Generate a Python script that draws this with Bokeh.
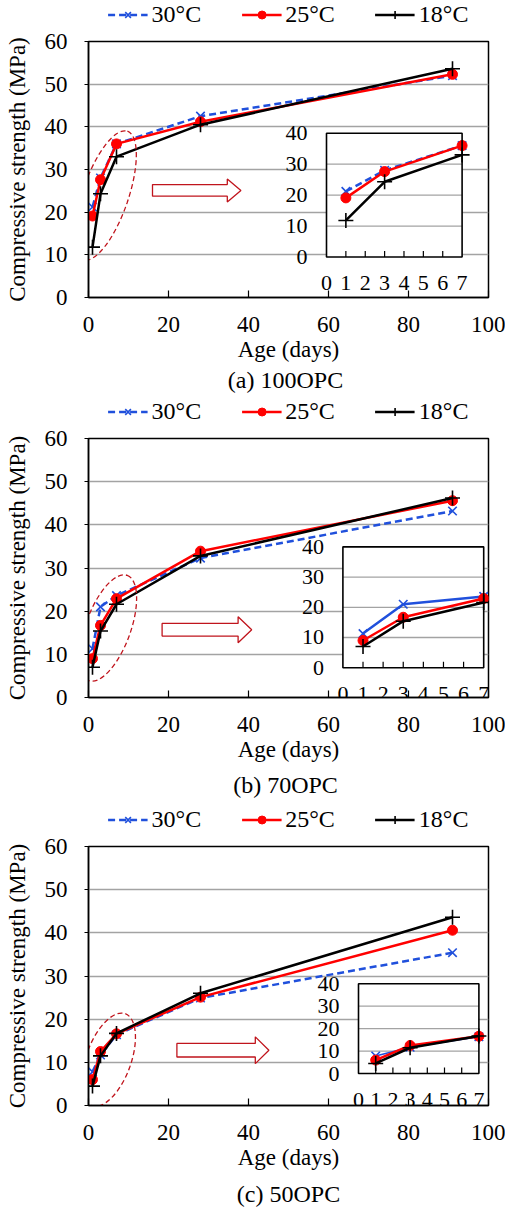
import math
from bokeh.plotting import figure
from bokeh.layouts import column
from bokeh.models import Range1d, Legend, LegendItem, Title, FixedTicker
from bokeh.core.properties import value
from bokeh.embed import file_html
from bokeh.resources import INLINE

# ---------------- data ----------------
ages = [1, 3, 7, 28, 91]
series_labels = ["30°C", "25°C", "18°C"]

opc100_30 = [21.2, 28.0, 36.0, 42.5, 52.0]
opc100_25 = [19.1, 27.6, 36.0, 41.2, 52.3]
opc100_18 = [11.8, 24.3, 33.0, 40.5, 53.6]

opc70_30 = [11.3, 21.0, 23.6, 32.3, 43.2]
opc70_25 = [9.0, 16.7, 22.9, 33.9, 45.6]
opc70_18 = [7.0, 15.4, 21.6, 32.8, 46.2]

opc50_30 = [7.8, 11.7, 16.4, 24.9, 35.4]
opc50_25 = [6.0, 12.5, 16.6, 25.1, 40.6]
opc50_18 = [4.5, 11.5, 16.7, 26.0, 43.6]

x_ticks = [0, 20, 40, 60, 80, 100]
y_ticks = [0, 10, 20, 30, 40, 50, 60]
inset_x_ticks = [0, 1, 2, 3, 4, 5, 6, 7]
inset_y_ticks = [0, 10, 20, 30, 40]
captions = ["(a)  100OPC", "(b)  70OPC", "(c) 50OPC"]
x_title = "Age (days)"
y_title = "Compressive strength (MPa)"

# ---------------- style ----------------
FONT = "Liberation Serif"
BLUE = "#2050dc"
RED = "#ff0000"
BLACK = "#000000"
DARKRED = "#c0141c"
GRID = "#a3a3a3"
W = 505
LEFT = 80
RIGHT = 17
STYLE30 = dict(line_color=BLUE, line_width=2.5, line_dash="7 4")
STYLE25 = dict(line_color=RED, line_width=2.5)
STYLE18 = dict(line_color=BLACK, line_width=2.5)
MK30 = dict(marker="x", size=12, line_color=BLUE, line_width=1.6)
MK25 = dict(marker="circle", size=10, fill_color=RED, line_color=RED)
MK18 = dict(marker="cross", size=15, line_color=BLACK, line_width=1.6)


def make_legend(h, s30, s25, s18):
    # legend strip: series renderers sit outside the visible range, only the legend shows
    q = figure(width=W, height=h, x_range=Range1d(-2, -1), y_range=Range1d(-2, -1),
               output_backend="svg", toolbar_location=None, title=None,
               x_axis_location=None, y_axis_location=None,
               min_border_left=88, min_border_right=9, min_border_top=0, min_border_bottom=0)
    q.grid.visible = False
    q.outline_line_color = None
    q.background_fill_color = "white"
    q.border_fill_color = "white"
    r = []
    for s, ls, ms in ((s30, STYLE30, MK30), (s25, STYLE25, MK25), (s18, STYLE18, MK18)):
        r.append((q.line(ages, s, **ls), q.scatter(ages, s, **ms)))
    legend = Legend(items=[LegendItem(label=series_labels[i], renderers=list(r[i])) for i in range(3)],
                    orientation="horizontal", location="center",
                    glyph_width=40, glyph_height=20, label_height=20, label_standoff=4,
                    spacing=40, padding=0, margin=0,
                    border_line_alpha=0, background_fill_alpha=0,
                    label_text_font=FONT, label_text_font_size="24px", label_text_color="black")
    q.add_layout(legend, "center")
    return q


def make_panel(s30, s25, s18, caption, top, frame_h, bottom, inset_box, blue_dash_inset,
               blue_w_inset, ell, arrow, cap_offset, cap_standoff):
    p = figure(width=W, height=top + frame_h + bottom, x_range=Range1d(0, 100), y_range=Range1d(0, 60),
               output_backend="svg", toolbar_location=None, title=None,
               min_border_left=LEFT, min_border_right=RIGHT, min_border_top=top, min_border_bottom=bottom)
    p.background_fill_color = "white"
    p.border_fill_color = "white"
    p.outline_line_color = "black"
    p.outline_line_width = 1.5

    # axes
    p.xaxis.ticker = FixedTicker(ticks=x_ticks)
    p.yaxis.ticker = FixedTicker(ticks=y_ticks)
    for ax in (p.xaxis[0], p.yaxis[0]):
        ax.axis_line_color = "black"
        ax.axis_line_width = 1.5
        ax.major_tick_line_color = "black"
        ax.major_tick_line_width = 1.2
        ax.minor_tick_line_color = None
        ax.major_label_text_font = FONT
        ax.major_label_text_font_size = "23px"
        ax.major_label_text_color = "black"
        ax.axis_label_text_font = FONT
        ax.axis_label_text_font_size = "23px"
        ax.axis_label_text_font_style = "normal"
        ax.axis_label_text_color = "black"
    p.xaxis.major_tick_in = 7
    p.xaxis.major_tick_out = 0
    p.xaxis.major_label_standoff = 19
    p.xaxis.axis_label = x_title
    p.xaxis.axis_label_standoff = 2
    p.yaxis.major_tick_in = 0
    p.yaxis.major_tick_out = 4
    p.yaxis.major_label_standoff = 17
    p.yaxis.axis_label = y_title
    p.yaxis.axis_label_standoff = 12
    p.xgrid.visible = False
    p.ygrid.ticker = FixedTicker(ticks=y_ticks)
    p.ygrid.grid_line_color = GRID
    p.ygrid.grid_line_width = 1.3

    # main series
    p.line(ages, s30, **STYLE30)
    p.scatter(ages, s30, **MK30)
    p.line(ages, s25, **STYLE25)
    p.scatter(ages, s25, **MK25)
    p.line(ages, s18, **STYLE18)
    p.scatter(ages, s18, **MK18)

    # highlight ellipse around early ages
    cx, cy, ew, eh, ea = ell
    p.ellipse(x=[cx], y=[cy], width=[ew], height=[eh], angle=[math.radians(ea)],
              width_units="screen", height_units="screen", fill_color=None,
              line_color=DARKRED, line_width=1.3, line_dash="5 3")

    # hollow arrow pointing to the inset
    ax0, axh, axt, ay, sh, hh = arrow
    p.patch([ax0, axh, axh, axt, axh, axh, ax0],
            [ay - sh, ay - sh, ay - hh, ay, ay + hh, ay + sh, ay + sh],
            fill_color="white", line_color=DARKRED, line_width=1.3)

    # inset: ranges mapped onto the box (given in main data units)
    bx0, bx1, by0, by1 = inset_box
    ix0, ix1 = inset_x_ticks[0], inset_x_ticks[-1]
    iy0, iy1 = inset_y_ticks[0], inset_y_ticks[-1]
    kx = (ix1 - ix0) / (bx1 - bx0)
    ky = (iy1 - iy0) / (by1 - by0)
    p.extra_x_ranges = {"ix": Range1d(ix0 + (0 - bx0) * kx, ix0 + (100 - bx0) * kx)}
    p.extra_y_ranges = {"iy": Range1d(iy0 + (0 - by0) * ky, iy0 + (60 - by0) * ky)}
    kw = dict(x_range_name="ix", y_range_name="iy")
    p.quad(left=[ix0], right=[ix1], bottom=[iy0], top=[iy1], fill_color="white",
           line_color=None, **kw)
    inner = inset_y_ticks[1:-1]
    p.segment(x0=[ix0] * len(inner), x1=[ix1] * len(inner), y0=inner, y1=inner,
              line_color=GRID, line_width=1.3, **kw)
    px_per_y = frame_h / 60.0 / ky
    tick_len = 6.0 / px_per_y
    inner_x = inset_x_ticks[1:-1]
    p.segment(x0=inner_x, x1=inner_x, y0=[iy0] * len(inner_x), y1=[iy0 + tick_len] * len(inner_x),
              line_color="black", line_width=1.2, **kw)
    n = 3
    p.line(ages[:n], s30[:n], line_color=BLUE, line_width=blue_w_inset,
           line_dash="7 4" if blue_dash_inset else "solid", **kw)
    p.scatter(ages[:n], s30[:n], **MK30, **kw)
    p.line(ages[:n], s25[:n], **STYLE25, **kw)
    p.scatter(ages[:n], s25[:n], **MK25, **kw)
    p.line(ages[:n], s18[:n], **STYLE18, **kw)
    p.scatter(ages[:n], s18[:n], **MK18, **kw)
    p.quad(left=[ix0], right=[ix1], bottom=[iy0], top=[iy1], fill_color=None,
           line_color="black", line_width=1.6, **kw)
    p.text(x=[ix0] * len(inset_y_ticks), y=inset_y_ticks, text=[str(t) for t in inset_y_ticks],
           x_offset=-19, text_align="right", text_baseline="middle",
           text_font=value(FONT), text_font_size=value("22px"), text_color="black", **kw)
    p.text(x=inset_x_ticks, y=[iy0] * len(inset_x_ticks), text=[str(t) for t in inset_x_ticks],
           y_offset=26, text_align="center", text_baseline="middle",
           text_font=value(FONT), text_font_size=value("22px"), text_color="black", **kw)

    p.add_layout(Title(text=caption, align="center", offset=cap_offset, standoff=cap_standoff,
                       text_font=FONT, text_font_size="24px", text_font_style="normal",
                       text_color="black"), "below")
    return p


la = make_legend(28, opc100_30, opc100_25, opc100_18)
pa = make_panel(opc100_30, opc100_25, opc100_18, captions[0], 13, 256, 100,
                (59.5, 93.4, 9.5, 38.5), True, 2.5,
                (4.2, 23.9, 136, 46, 71), (16.0, 34.7, 38.1, 25.1, 1.36, 2.7), -11, 1)
lb = make_legend(28, opc70_30, opc70_25, opc70_18)
pb = make_panel(opc70_30, opc70_25, opc70_18, captions[1], 13, 259, 108,
                (63.6, 98.8, 6.9, 34.9), False, 2.5,
                (4.9, 16.1, 112, 45, 70), (18.4, 37.4, 40.8, 15.7, 1.46, 3.0), -11, 11)
lc = make_legend(28, opc50_30, opc50_25, opc50_18)
pc = make_panel(opc50_30, opc50_25, opc50_18, captions[2], 13, 259, 109,
                (67.5, 97.6, 7.4, 28.2), False, 1.6,
                (5.0, 10.6, 98, 45, 70), (22.1, 41.7, 45.1, 12.8, 1.57, 3.1), -34, 12)

layout = column(la, pa, lb, pb, lc, pc, spacing=0)
open("out.html", "w").write(file_html(layout, INLINE))
